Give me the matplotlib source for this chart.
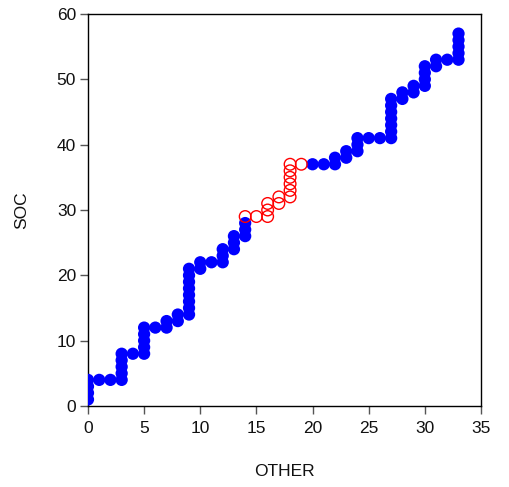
import matplotlib
matplotlib.use("Agg")
import matplotlib.pyplot as plt

plt.rcParams['font.family'] = ['Liberation Sans', 'DejaVu Sans']

# blue group (filled)
blue_x = [0, 0, 0, 0, 1, 2, 3, 3, 3, 3, 3, 4, 5, 5, 5, 5, 5, 6, 7, 7, 8, 8,
          9, 9, 9, 9, 9, 9, 9, 9, 10, 10, 11, 12, 12, 12, 13, 13, 13, 14, 14, 14,
          20, 21, 22, 22, 23, 23, 24, 24, 24, 25, 26,
          27, 27, 27, 27, 27, 27, 27, 28, 28, 29, 29, 30, 30, 30, 30, 31, 31, 32,
          33, 33, 33, 33, 33]
blue_y = [1, 2, 3, 4, 4, 4, 4, 5, 6, 7, 8, 8, 8, 9, 10, 11, 12, 12, 12, 13, 13, 14,
          14, 15, 16, 17, 18, 19, 20, 21, 21, 22, 22, 22, 23, 24, 24, 25, 26, 26, 27, 28,
          37, 37, 37, 38, 38, 39, 39, 40, 41, 41, 41,
          41, 42, 43, 44, 45, 46, 47, 47, 48, 48, 49, 49, 50, 51, 52, 52, 53, 53,
          53, 54, 55, 56, 57]

# red group (open)
red_x = [14, 15, 16, 16, 16, 17, 17, 18, 18, 18, 18, 18, 18, 19]
red_y = [29, 29, 29, 30, 31, 31, 32, 32, 33, 34, 35, 36, 37, 37]

fig = plt.figure(figsize=(5.10, 4.87), dpi=100)
ax = fig.add_axes([0.1725, 0.1663, 0.7706, 0.805])

ax.scatter(blue_x, blue_y, s=78, color='#0000ff', edgecolors='none', zorder=3)
ax.scatter(red_x, red_y, s=70, facecolors='none', edgecolors='#ff0000',
           linewidths=1.0, zorder=3)

ax.set_xlim(0, 35)
ax.set_ylim(0, 60)
ax.set_xticks(range(0, 36, 5))
ax.set_yticks(range(0, 61, 10))
ax.tick_params(direction='out', length=5.5, width=1, color='#555555',
               labelsize=12.5, labelcolor='#111111')
ax.tick_params(axis='x', pad=5)
ax.tick_params(axis='y', pad=3)
for sp in ax.spines.values():
    sp.set_linewidth(1)

ax.set_xlabel('OTHER', fontsize=12.5, color='#111111')
ax.set_ylabel('SOC', fontsize=12.5, color='#111111')
ax.xaxis.set_label_coords(0.5, -0.168)
ax.xaxis.label.set_va('center')
ax.yaxis.set_label_coords(-0.168, 0.5)
ax.yaxis.label.set_va('center')

fig.savefig('out.png', dpi=100)
